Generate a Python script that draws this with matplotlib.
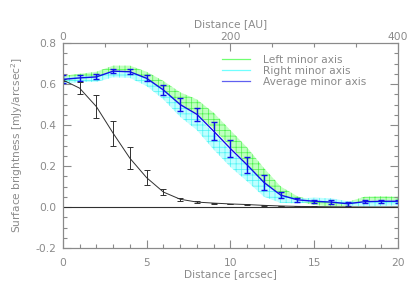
import numpy as np
import matplotlib
matplotlib.use("Agg")
import matplotlib.pyplot as plt
from matplotlib.ticker import MultipleLocator, FormatStrFormatter
from matplotlib.lines import Line2D

# radial profiles (arcsec)
dist = np.arange(0, 21)
left_sb = [0.625, 0.635, 0.645, 0.675, 0.675, 0.64, 0.59, 0.53, 0.49, 0.42, 0.335,
           0.25, 0.155, 0.08, 0.04, 0.02, 0.012, 0.015, 0.04, 0.042, 0.04]
left_err = [0.015, 0.015, 0.015, 0.015, 0.015, 0.02, 0.025, 0.03, 0.035, 0.04, 0.04,
            0.04, 0.035, 0.02, 0.012, 0.01, 0.01, 0.01, 0.01, 0.01, 0.01]
right_sb = [0.615, 0.625, 0.625, 0.648, 0.645, 0.61, 0.55, 0.47, 0.41, 0.32, 0.235,
            0.165, 0.085, 0.04, 0.03, 0.035, 0.033, 0.018, 0.012, 0.015, 0.018]
right_err = [0.015, 0.015, 0.015, 0.015, 0.015, 0.02, 0.025, 0.03, 0.035, 0.04, 0.04,
             0.04, 0.035, 0.02, 0.012, 0.01, 0.01, 0.01, 0.01, 0.01, 0.01]
avg_sb = [0.623, 0.63, 0.635, 0.663, 0.66, 0.628, 0.571, 0.50, 0.452, 0.37, 0.285,
          0.205, 0.12, 0.058, 0.035, 0.028, 0.024, 0.016, 0.026, 0.028, 0.028]
avg_err = [0.02, 0.015, 0.012, 0.01, 0.012, 0.015, 0.025, 0.03, 0.03, 0.045, 0.04,
           0.04, 0.035, 0.015, 0.01, 0.006, 0.008, 0.01, 0.006, 0.006, 0.006]
psf_sb = [0.62, 0.58, 0.49, 0.36, 0.238, 0.143, 0.073, 0.038, 0.024, 0.019, 0.015,
          0.012, 0.008, 0.005, 0.003, 0.002, 0.001, 0.0005, 0.0, 0.0, 0.0]
psf_err = [0.005, 0.03, 0.055, 0.06, 0.053, 0.037, 0.015, 0.008, 0.004, 0.003, 0.002,
           0.002, 0.001, 0.001, 0.001, 0.001, 0.001, 0.0, 0.0, 0.0, 0.0]
labels = ["Left minor axis", "Right minor axis", "Average minor axis"]

txt = "#8a8a8a"
plt.rcParams["font.family"] = "DejaVu Sans"
plt.rcParams["font.size"] = 7.7
plt.rcParams["text.color"] = txt
plt.rcParams["axes.labelcolor"] = txt
plt.rcParams["xtick.color"] = txt
plt.rcParams["ytick.color"] = txt
plt.rcParams["axes.edgecolor"] = txt
plt.rcParams["hatch.linewidth"] = 0.5

fig = plt.figure(figsize=(4.19, 2.93), dpi=100)
ax = fig.add_axes([0.150, 0.1536, 0.800, 0.6994])

l, r, a = np.array(left_sb), np.array(right_sb), np.array(avg_sb)
ax.fill_between(dist, l - left_err, l + left_err, facecolor="#b0ffb0", edgecolor="#30f030",
                hatch="+++", linewidth=0, alpha=0.8)
ax.fill_between(dist, r - right_err, r + right_err, facecolor="#b0ffff", edgecolor="#30f0f0",
                hatch="+++", linewidth=0, alpha=0.8)
ax.errorbar(dist, a, yerr=avg_err, color="#1010e8", lw=1.0, elinewidth=1.0,
            capsize=2, capthick=1.0)
ax.errorbar(dist, psf_sb, yerr=psf_err, color="#303030", lw=0.7, elinewidth=0.7,
            capsize=2, capthick=0.7)
ax.axhline(0, color="#303030", lw=0.8)

ax.set_xlim(0, 20)
ax.set_ylim(-0.2, 0.8)
ax.xaxis.set_major_locator(MultipleLocator(5))
ax.xaxis.set_minor_locator(MultipleLocator(1))
ax.yaxis.set_major_locator(MultipleLocator(0.2))
ax.yaxis.set_minor_locator(MultipleLocator(0.05))
ax.yaxis.set_major_formatter(FormatStrFormatter("%.1f"))
ax.tick_params(which="both", direction="in", right=True)
ax.tick_params(axis="x", pad=7)
ax.tick_params(axis="y", pad=5)
ax.tick_params(which="major", length=6, width=0.8)
ax.tick_params(which="minor", length=3, width=0.8)
ax.set_xlabel("Distance [arcsec]", labelpad=1)
ax.set_ylabel("Surface brightness [mJy/arcsec$^2$]", labelpad=7)

top = ax.twiny()
top.set_xlim(0, 400)
top.xaxis.set_major_locator(MultipleLocator(200))
top.xaxis.set_minor_locator(MultipleLocator(50))
top.tick_params(which="both", direction="in", pad=1)
top.tick_params(which="major", length=6, width=0.8)
top.tick_params(which="minor", length=3, width=0.8)
top.set_xlabel("Distance [AU]", labelpad=3)

handles = [Line2D([], [], color="#70ff70", lw=0.9),
           Line2D([], [], color="#70ffff", lw=0.9),
           Line2D([], [], color="#6060f0", lw=0.9)]
ax.legend(handles, labels, loc="upper left", bbox_to_anchor=(0.462, 0.965), frameon=False,
          handlelength=2.6, handletextpad=1.2, labelspacing=0.12, borderaxespad=0)

for s in ax.spines.values():
    s.set_linewidth(0.8)

fig.savefig("out.png", dpi=100)
